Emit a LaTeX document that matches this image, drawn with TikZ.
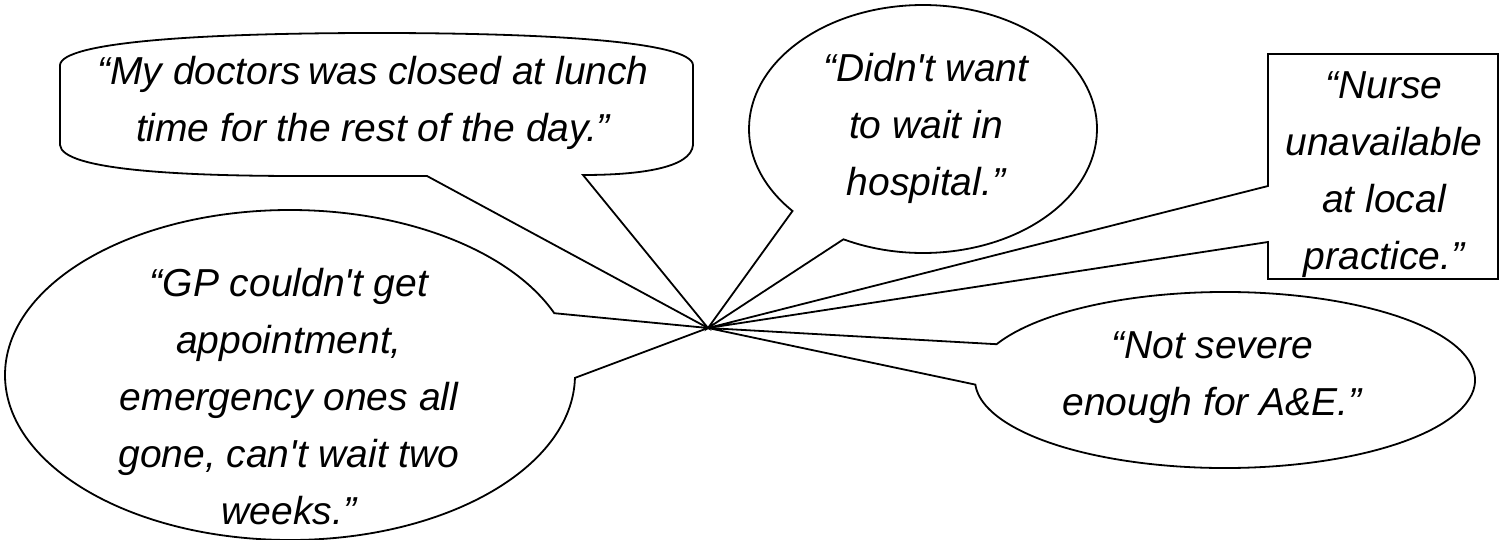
\documentclass[tikz,border=0pt]{standalone}
\usepackage{fontspec}
\setmainfont{Liberation Sans}
\newcommand{\ap}{\textquotesingle}
\begin{document}
\begin{tikzpicture}[x=0.5pt,y=-0.5pt,
  bubble/.style={draw=black,line width=0.9pt,line join=miter,fill=white},
  quote/.style={font=\itshape\fontsize{19.5}{28.5}\selectfont,align=center,inner sep=0pt}]
\useasboundingbox (0,0) rectangle (1503,540);
\coordinate (A) at (708,328);
% callout 1: rounded box
\coordinate (b1l) at (427,176);
\coordinate (b1r) at (583,175);
\draw[bubble] (60,65) .. controls (62,42) and (200,33) .. (377,33)
  .. controls (554,33) and (691,42) .. (693,65) -- (693,145)
  .. controls (691,168) and (640,175) .. (b1r) -- (A) -- (b1l) -- (300,176)
  .. controls (180,176) and (62,170) .. (60,145) -- cycle;
% callout 2: ellipse
\path (923,129) ++(138.6:174 and 124) coordinate (e2a);
\draw[bubble] (e2a) arc[start angle=138.6, end angle=477.2, x radius=174, y radius=124] -- (A) -- cycle;
% callout 3: rectangle
\coordinate (n1) at (1268,186);
\coordinate (n2) at (1268,242);
\draw[bubble] (1268,54) -- (1498,54) -- (1498,279) -- (1268,279) -- (n2) -- (A) -- (n1) -- cycle;
% callout 4: ellipse
\path (1225,380) ++(204:250 and 88) coordinate (e4a);
\draw[bubble] (e4a) arc[start angle=204, end angle=537, x radius=250, y radius=88] -- (A) -- cycle;
% callout 5: ellipse
\path (290,375) ++(1:285 and 165) coordinate (e5a);
\draw[bubble] (e5a) arc[start angle=1, end angle=338, x radius=285, y radius=165] -- (A) -- cycle;
% texts
\node[quote] (t1) at (373,103) {“My doctors\hspace{-0.09em} was closed at lunch\\time for the rest of the day.”};
\node[quote] (t2) at (926,128) {“Didn\ap t want\\to wait in\\hospital.”};
\node[quote] (t3) at (1384,175) {“Nurse\\unavailable\\at local\\practice.”};
\node[quote] (t4) at (1212,378) {“Not severe\\enough for A\&E.”};
\node[quote] (t5) at (289,397) {“GP couldn\ap t get\\appointment,\\emergency ones all\\gone, can\ap t wait two\\weeks.”};
\end{tikzpicture}
\end{document}
